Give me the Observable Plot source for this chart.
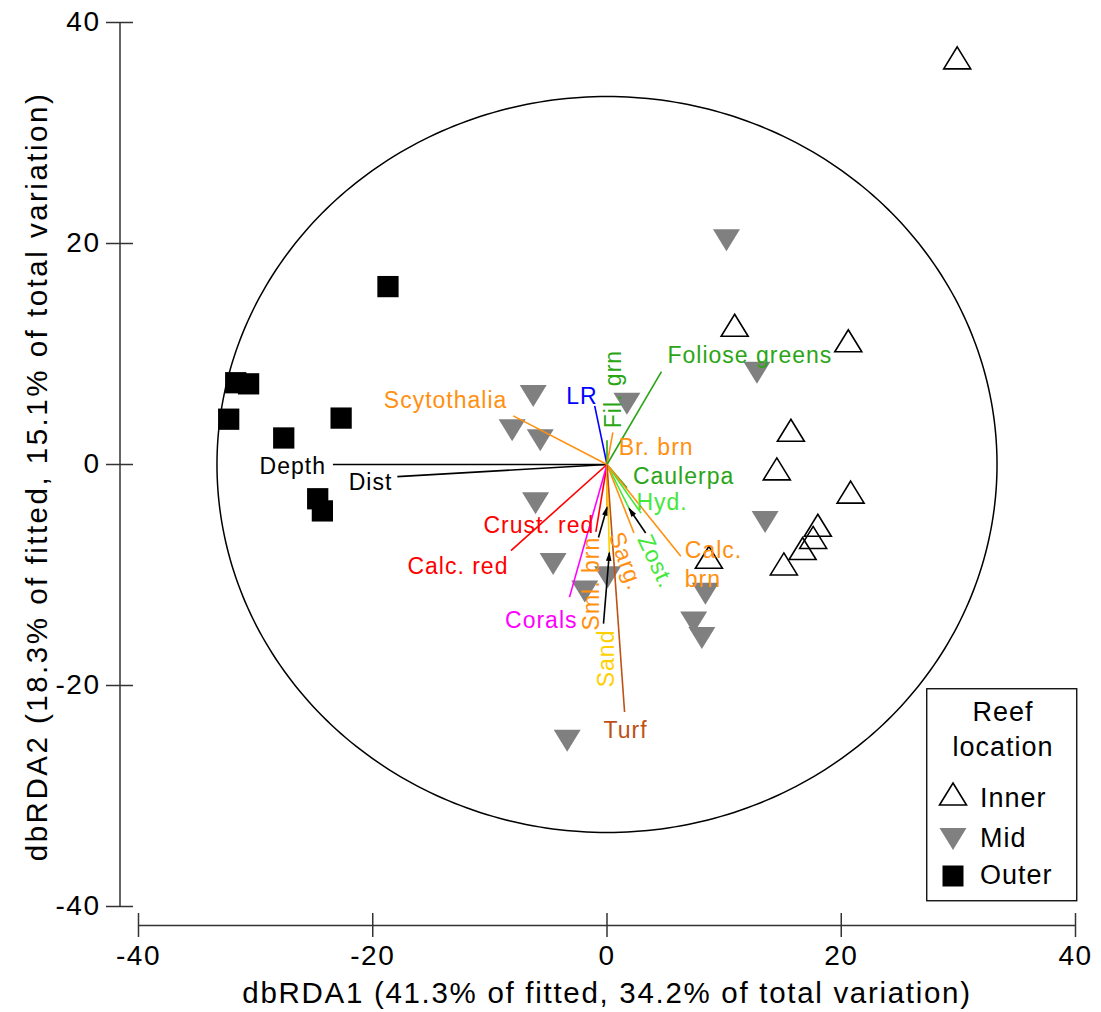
<!DOCTYPE html>
<html><head><meta charset="utf-8">
<script src="https://cdn.jsdelivr.net/npm/d3@7"></script>
<script src="https://cdn.jsdelivr.net/npm/@observablehq/plot@0.6"></script>
<style>
html,body{margin:0;padding:0;background:#fff;}
#wrap{position:relative;width:1101px;height:1012px;font-family:'Liberation Sans',Arial,sans-serif;}
#wrap svg text{letter-spacing:1px;}
#wrap svg g[aria-label$="tick label"] text{letter-spacing:1.5px;}
#legend text{letter-spacing:1.5px;}
#legend{position:absolute;left:926px;top:688px;}
</style></head><body><div id="wrap"></div>
<script>
// ---- data ----
const xTicks = [-40, -20, 0, 20, 40];
const xTickLabels = ["-40", "-20", "0", "20", "40"];
const yTicks = [-40, -20, 0, 20, 40];
const yTickLabels = ["-40", "-20", "0", "20", "40"];
const xTitle = "dbRDA1 (41.3% of fitted, 34.2% of total variation)";
const yTitle = "dbRDA2 (18.3% of fitted, 15.1% of total variation)";
const groups = ["Inner", "Mid", "Outer"];
const legendTitle = ["Reef", "location"];

const innerX = [29.9, 10.9, 20.6, 15.7, 14.5, 20.8, 18.0, 17.6, 16.7, 15.1, 8.7];
const innerY = [36.8, 12.6, 11.2, 3.1, -0.4, -2.5, -5.5, -6.6, -7.6, -9.0, -8.4];
const midX = [10.2, 12.8, -6.3, 1.7, -8.1, -5.7, -6.1, -4.6, 13.5, 8.4, 7.4, 8.1, -1.9, 0.05, -3.4];
const midY = [20.3, 8.3, 6.2, 5.5, 3.1, 2.2, -3.5, -9.0, -5.2, -11.7, -14.3, -15.7, -11.5, -10.2, -25.0];
const outerX = [-18.7, -31.7, -30.6, -32.3, -22.7, -27.6, -24.7, -24.3];
const outerY = [16.1, 7.4, 7.3, 4.1, 4.2, 2.4, -3.1, -4.2];

const vecNames = ["Depth", "Dist", "Scytothalia", "LR", "Fil. grn", "Br. brn", "Foliose greens", "Caulerpa",
  "Hyd.", "Zost.", "Calc.\nbrn", "Sarg.", "Crust. red", "Calc. red", "Corals", "Sml. brn", "Sand", "Turf"];
const vecX = [-23.4, -17.9, -8.0, -1.05, 0.0, 0.5, 4.65, 1.7, 2.9, 1.9, 6.3, 2.3, -0.95, -8.2, -3.2, 0.0, 0.2, 1.5];
const vecY = [0.0, -1.1, 4.4, 5.3, 2.2, 2.9, 8.4, -2.1, -4.4, -4.0, -8.3, -6.2, -6.1, -7.8, -12.0, -3.9, -8.0, -22.4];

const leaderNames = ["Sml. brn", "Sand", "Zost."];
const leaderX = [-0.73, -0.3, 3.3];
const leaderY = [-6.6, -14.4, -6.2];

const circleRadius = 33.3;

// ---- styles ----
const C = {orange: "#FF9010", green: "#2AA515", lgreen: "#44E83A", red: "#FF0000", blue: "#0000FF",
  magenta: "#FF00FF", yellow: "#FFD000", brown: "#BE5014", black: "#000000"};
const vecStyle = {
  "Depth": {c: C.black, a: "end", dx: -7, dy: 0},
  "Dist": {c: C.black, a: "end", dx: -5, dy: 4},
  "Scytothalia": {c: C.orange, a: "end", dx: -6, dy: -17},
  "LR": {c: C.blue, a: "end", dx: 3, dy: -11},
  "Fil. grn": {c: C.green, a: "start", dx: 4.5, dy: -12, rot: -90},
  "Br. brn": {c: C.orange, a: "start", dx: 6, dy: 13},
  "Foliose greens": {c: C.green, a: "start", dx: 6, dy: -18},
  "Caulerpa": {c: C.green, a: "start", dx: 6, dy: -12.5},
  "Hyd.": {c: C.lgreen, a: "start", dx: -4.5, dy: -12},
  "Zost.": {c: C.lgreen, a: "middle", dx: 28, dy: 52, rot: 65},
  "Calc.\nbrn": {c: C.orange, a: "start", dx: 4, dy: 7},
  "Sarg.": {c: C.orange, a: "middle", dx: -6.5, dy: 27.5, rot: 70},
  "Crust. red": {c: C.red, a: "end", dx: -1.5, dy: -8.5},
  "Calc. red": {c: C.red, a: "end", dx: -2.5, dy: 14},
  "Corals": {c: C.magenta, a: "end", dx: 8, dy: 21.5},
  "Sml. brn": {c: C.orange, a: "middle", dx: -17.5, dy: 76, rot: -90},
  "Sand": {c: C.yellow, a: "middle", dx: -5, dy: 105.5, rot: -90},
  "Turf": {c: C.brown, a: "middle", dx: 1, dy: 16.5}
};

const triUp = {draw(ctx, size) { const r = Math.sqrt(size / Math.PI), w = r * 1.35, h = r * 1.1;
  ctx.moveTo(0, -h); ctx.lineTo(w, h); ctx.lineTo(-w, h); ctx.closePath(); }};
const triDown = {draw(ctx, size) { const r = Math.sqrt(size / Math.PI), w = r * 1.35, h = r * 1.1;
  ctx.moveTo(0, h); ctx.lineTo(w, -h); ctx.lineTo(-w, -h); ctx.closePath(); }};

// ---- derived tables ----
const inner = innerX.map((x, i) => ({x, y: innerY[i]}));
const mid = midX.map((x, i) => ({x, y: midY[i]}));
const outer = outerX.map((x, i) => ({x, y: outerY[i]}));
const vecs = vecNames.map((name, i) => ({name, x: vecX[i], y: vecY[i], color: vecStyle[name].c}));
const leaders = leaderNames.map((name, i) => {
  const v = vecs.find(d => d.name === name);
  return {x1: leaderX[i], y1: leaderY[i], x2: v.x, y2: v.y};
});
const circle = d3.range(0, 361, 1).map(a => ({x: circleRadius * Math.cos(a * Math.PI / 180), y: circleRadius * Math.sin(a * Math.PI / 180)}));

const labelMarks = vecs.map(d => {
  const s = vecStyle[d.name];
  return Plot.text([d], {x: "x", y: "y", text: "name", fill: s.c, textAnchor: s.a, lineAnchor: "middle",
    dx: s.dx, dy: s.dy, rotate: s.rot || 0, fontSize: 23, lineHeight: 1.25});
});

const chart = Plot.plot({
  width: 1101, height: 1012,
  marginLeft: 138, marginRight: 26, marginTop: 22, marginBottom: 106,
  x: {domain: [-40, 40]},
  y: {domain: [-40, 40]},
  style: {fontFamily: "'Liberation Sans', Arial, sans-serif", background: "white", overflow: "visible"},
  marks: [
    Plot.axisX(xTicks, {anchor: "bottom", tickSize: 24, dy: 7, tickPadding: 8, fontSize: 28, label: null,
      stroke: "#333", strokeWidth: 1.5, fill: "#000", tickFormat: (d) => xTickLabels[xTicks.indexOf(d)]}),
    Plot.axisY(yTicks, {anchor: "left", tickSize: 27, dx: -5, tickPadding: 6, fontSize: 28, label: null,
      stroke: "#333", strokeWidth: 1.5, fill: "#000", tickFormat: (d) => yTickLabels[yTicks.indexOf(d)]}),
    Plot.ruleX([xTicks[0]], {y1: yTicks[0], y2: yTicks[yTicks.length - 1], dx: -18.5, stroke: "#333", strokeWidth: 1.5}),
    Plot.ruleY([yTicks[0]], {x1: xTicks[0], x2: xTicks[xTicks.length - 1], dy: 19, stroke: "#333", strokeWidth: 1.5}),
    Plot.text([xTitle], {frameAnchor: "bottom", textAnchor: "middle", lineAnchor: "middle", dy: 87, fontSize: 29.5, fill: "#000"}),
    Plot.text([yTitle], {frameAnchor: "left", textAnchor: "middle", lineAnchor: "middle", rotate: -90, dx: -101, dy: 12, fontSize: 29.5, fill: "#000"}),
    Plot.line(circle, {x: "x", y: "y", stroke: "#000", strokeWidth: 1.5}),
    Plot.dot(outer, {x: "x", y: "y", symbol: "square", r: 12, fill: "#000", stroke: "none"}),
    Plot.dot(mid, {x: "x", y: "y", symbol: triDown, r: 10, fill: "#808080", stroke: "none"}),
    Plot.dot(inner, {x: "x", y: "y", symbol: triUp, r: 10, fill: "none", stroke: "#000", strokeWidth: 1.6}),
    Plot.link(vecs, {x1: 0, y1: 0, x2: "x", y2: "y", stroke: "color", strokeWidth: 1.6}),
    Plot.link(leaders, {x1: "x1", y1: "y1", x2: "x2", y2: "y2", stroke: "#000", strokeWidth: 1.6, markerEnd: "arrow"}),
    ...labelMarks
  ]
});
document.getElementById("wrap").appendChild(chart);

// filled arrowheads for the leader arrows
d3.select(chart).selectAll("marker").each(function() {
  const m = d3.select(this);
  m.attr("fill", "#000").attr("stroke", "none").style("overflow", "visible");
  m.selectAll("path").attr("d", "M-7.5,-2.6L1.5,0L-7.5,2.6Z").attr("fill", "#000").attr("stroke", "none");
});
// per-title letter spacing
d3.select(chart).selectAll("text").each(function() {
  if (this.textContent === yTitle) this.style.letterSpacing = "2.5px";
  if (this.textContent === xTitle) this.style.letterSpacing = "1.7px";
});

// ---- legend overlay ----
const lg = d3.select("#wrap").append("svg").attr("id", "legend").attr("width", 153).attr("height", 214)
  .style("font-family", "'Liberation Sans', Arial, sans-serif");
lg.append("rect").attr("x", 0.75).attr("y", 0.75).attr("width", 150).attr("height", 212)
  .attr("fill", "#fff").attr("stroke", "#000").attr("stroke-width", 1.3);
legendTitle.forEach((t, i) => lg.append("text").attr("x", 77).attr("y", 33 + i * 35)
  .attr("text-anchor", "middle").attr("font-size", 27).attr("fill", "#000").text(t));
const legSym = [
  {sym: triUp, fill: "none", stroke: "#000", cy: 106, size: Math.PI * 100},
  {sym: triDown, fill: "#808080", stroke: "none", cy: 151, size: Math.PI * 100},
  {sym: d3.symbolSquare, fill: "#000", stroke: "none", cy: 188, size: 441}
];
const legBase = [119, 159, 196];
groups.forEach((g, i) => {
  const s = legSym[i];
  lg.append("path").attr("d", d3.symbol(s.sym, s.size)()).attr("transform", `translate(27,${s.cy})`)
    .attr("fill", s.fill).attr("stroke", s.stroke).attr("stroke-width", 1.6);
  lg.append("text").attr("x", 54).attr("y", legBase[i]).attr("font-size", 27).attr("fill", "#000").text(g);
});
</script></body></html>
